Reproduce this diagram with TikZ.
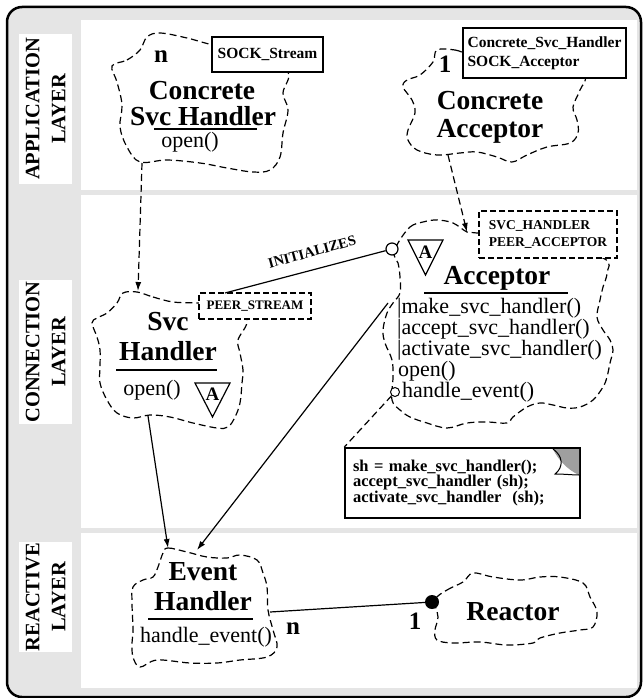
\documentclass[tikz,border=0pt]{standalone}
\usepackage{fontspec}
\setmainfont{Liberation Serif}
\usetikzlibrary{arrows.meta}

\begin{document}
\begin{tikzpicture}[x=1pt, y=-1pt,
    >={Latex[length=9pt,width=6pt]},
    cloudline/.style={line width=1.2pt, dash pattern=on 7pt off 4pt},
    sidelabel/.style={fill=white, rotate=90, align=center, inner sep=0pt,
      font=\fontsize{20.5}{26}\selectfont\bfseries, minimum height=53pt},
    title/.style={anchor=base, inner sep=0pt, font=\fontsize{27.5}{27}\selectfont\bfseries},
    meth/.style={anchor=base west, inner sep=0pt, font=\fontsize{22}{21}\selectfont},
    mult/.style={anchor=base, inner sep=0pt, font=\fontsize{25}{25}\selectfont\bfseries},
    tbox/.style={draw, fill=white, line width=1.3pt, align=left, inner sep=0pt},
    dbox/.style={tbox, dash pattern=on 6pt off 3pt},
    conn/.style={line width=1.2pt},
    badge/.style={inner sep=0pt, font=\fontsize{19}{19}\selectfont\bfseries}]
    \useasboundingbox (0,0) rectangle (642,698);

    \draw[line width=2.5pt, rounded corners=15pt, fill=gray!20] (7,7) rectangle (641,697);
    \fill[white] (81,20) rectangle (637,190);
    \fill[white] (81,195) rectangle (637,528);
    \fill[white] (81,533) rectangle (637,688);

    \node[sidelabel, minimum width=150pt] (LA) at (45.5,109) {APPLICATION\\LAYER};
    \node[sidelabel, minimum width=144pt] (LC) at (45.5,352) {CONNECTION\\LAYER};
    \node[sidelabel, minimum width=110pt] (LR) at (45.5,597) {REACTIVE\\LAYER};

    % clouds
    \draw[cloudline] plot[smooth cycle, tension=0.6] coordinates {
        (112,66) (127,60) (140,50) (147,37) (160,33) (187,38) (213,45) (260,55)
        (288,72) (283,93) (288,110) (283,133) (280,157) (270,170) (253,172)
        (227,168) (200,163) (167,160) (140,162) (127,147) (120,127) (122,105) (117,82)};
    \draw[cloudline] plot[smooth cycle, tension=0.6] coordinates {
        (437,50) (455,50) (475,55) (540,60) (583,75) (580,90) (573,107) (577,120)
        (578,133) (570,143) (547,147) (527,155) (512,162) (497,157) (477,152)
        (460,153) (437,155) (417,150) (408,140) (408,130) (415,113) (412,100)
        (403,87) (407,80) (420,75) (433,62)};
    \draw[cloudline] plot[smooth cycle, tension=0.6] coordinates {
        (137,292) (153,297) (173,302) (197,303) (240,305) (247,322) (238,340)
        (240,353) (243,370) (242,383) (240,403) (235,417) (228,427) (217,428)
        (193,423) (170,417) (150,415) (133,418) (117,413) (107,400) (100,383)
        (100,367) (100,350) (97,337) (92,323) (97,318) (107,313) (117,303) (123,293)};
    \draw[cloudline] plot[smooth cycle, tension=0.6] coordinates {
        (398,243) (410,227) (423,222) (437,220) (453,223) (467,232) (477,233)
        (540,240) (603,258) (607,273) (603,287) (600,300) (597,317) (603,330)
        (610,340) (613,350) (610,363) (607,377) (603,387) (593,400) (580,407)
        (567,408) (553,405) (540,403) (527,407) (513,417) (507,423) (487,422)
        (467,423) (447,428) (427,423) (410,417) (400,410) (392,400) (393,377)
        (392,360) (385,343) (383,330) (387,313) (393,303) (400,293) (400,277)
        (398,263) (394,255)};
    \draw[cloudline] plot[smooth cycle, tension=0.6] coordinates {
        (163,553) (168,548) (187,552) (207,557) (227,558) (240,555) (257,560)
        (263,573) (267,587) (268,610) (273,630) (277,647) (267,657) (240,660)
        (217,663) (190,663) (157,660) (140,667) (133,657) (132,643) (133,630)
        (132,603) (133,587) (143,580) (153,577) (158,567)};
    \draw[cloudline] plot[smooth cycle, tension=0.6] coordinates {
        (435,600) (447,590) (463,582) (473,573) (493,577) (520,580) (540,577)
        (560,577) (583,583) (590,597) (597,612) (593,627) (580,630) (560,633)
        (540,638) (533,643) (507,645) (480,642) (453,643) (437,640) (435,630)
        (438,617)};

    \node[tbox, align=center, minimum width=111pt, minimum height=35pt,
        font=\fontsize{15.5}{15}\selectfont\bfseries] (SS) at (267.5,54.5) {SOCK\_Stream};
    \node[tbox, minimum width=163pt, minimum height=50pt,
        font=\fontsize{15.5}{19}\selectfont\bfseries] (CSA) at (544.5,53) {Concrete\_Svc\_Handler\\SOCK\_Acceptor};
    \node[dbox, align=center, minimum width=112pt, minimum height=26pt,
        font=\fontsize{13}{13}\selectfont\bfseries] (PS) at (255,306) {PEER\_STREAM};
    \node[dbox, minimum width=138pt, minimum height=47pt,
        font=\fontsize{13.5}{17}\selectfont\bfseries] (SP) at (548,234.5) {SVC\_HANDLER\\PEER\_ACCEPTOR};

    \node[mult] (CSHn) at (161,63) {n};
    \node[title] (CSH1) at (202,100) {Concrete};
    \node[title] (CSH2) at (203,125) {Svc Handler};
    \draw[line width=1.5pt] (154,129) -- (257,129);
    \node[meth, anchor=base] (CSH3) at (190,147) {open()};

    \node[mult] (CAn) at (445,73) {1};
    \node[title] (CA1) at (490,110) {Concrete};
    \node[title] (CA2) at (490,137) {Acceptor};

    \node[title] (SH1) at (168,330) {Svc};
    \node[title] (SH2) at (168,360) {Handler};
    \draw[line width=1.5pt] (116,370) -- (217,370);
    \node[meth, anchor=base] (SH3) at (152,395) {open()};
    \draw[line width=1.2pt] (195,383) -- (230,383) -- (212.5,417) -- cycle;
    \node[badge] (SHA) at (212.5,394) {A};

    \draw[line width=1.2pt] (408,240) -- (443,240) -- (425.5,275) -- cycle;
    \node[badge] (ACCA) at (425.5,252) {A};
    \node[title] (ACC1) at (497,284) {Acceptor};
    \draw[line width=1.5pt] (424,293) -- (568,293);
    \node[meth] (M1) at (397,313) {|make\_svc\_handler()};
    \node[meth] (M2) at (397,334) {|accept\_svc\_handler()};
    \node[meth] (M3) at (397,355) {|activate\_svc\_handler()};
    \node[meth] (M4) at (398,376) {open()};
    \node[meth] (M5) at (402,397) {handle\_event()};

    \node[title] (EH1) at (203,580) {Event};
    \node[title] (EH2) at (203,610) {Handler};
    \draw[line width=1.5pt] (148,619) -- (253,619);
    \node[meth, anchor=base] (EH3) at (206,642) {handle\_event()};
    \node[mult] (EHn) at (293,634) {n};

    \node[title] (R1) at (513,620) {Reactor};
    \node[mult] (Rn) at (415,629) {1};

    \node[tbox, line width=1.6pt, minimum width=235pt, minimum height=70pt,
        inner xsep=8pt, text width=219pt,
        font=\fontsize{16.5}{14.5}\selectfont\bfseries] (NOTE) at (462.5,483)
        {sh = make\_svc\_handler();\\accept\_svc\_handler (sh);\\activate\_svc\_handler\ \ (sh);};
    \fill[gray!75] (553,449) -- (579,449) -- (579,475) .. controls (568,470) and (558,460) .. (553,449) -- cycle;
    \draw[line width=1pt] (553,449) .. controls (563,456) and (564,467) .. (555,474)
        .. controls (565,474) and (572,475) .. (579,475);

    \node[circle, draw, fill=white, line width=1.2pt, minimum size=12pt, inner sep=0pt] (IC) at (392,249) {};
    \node[circle, draw, fill=white, line width=1pt, minimum size=9pt, inner sep=0pt] (HC) at (395,392) {};
    \node[circle, fill=black, minimum size=14pt, inner sep=0pt] (RD) at (432,602) {};
    \node[inner sep=0pt, rotate=15, font=\fontsize{14.5}{14}\selectfont\bfseries] (INIT) at (312,252) {INITIALIZES};

    \coordinate (CSH-s) at (142,163);
    \coordinate (SH-n) at (138,291);
    \coordinate (CA-s) at (448,155);
    \coordinate (ACC-n) at (467,232);
    \coordinate (PS-n) at (225,293);
    \coordinate (SH-s) at (148,416);
    \coordinate (EH-n) at (168,548);
    \coordinate (ACC-w) at (388,303);
    \coordinate (EH-ne) at (197,550);
    \coordinate (EH-e) at (270,612);

    \draw[conn, ->, dash pattern=on 7pt off 4pt] (CSH-s) -- (SH-n);
    \draw[conn, ->, dash pattern=on 7pt off 4pt] (CA-s) -- (ACC-n);
    \draw[conn] (PS-n) -- (IC);
    \draw[conn, ->] (SH-s) -- (EH-n);
    \draw[conn, ->] (ACC-w) -- (EH-ne);
    \draw[conn, dash pattern=on 7pt off 4pt] (HC) -- (NOTE.north west);
    \draw[conn] (EH-e) -- (RD);
\end{tikzpicture}
\end{document}
